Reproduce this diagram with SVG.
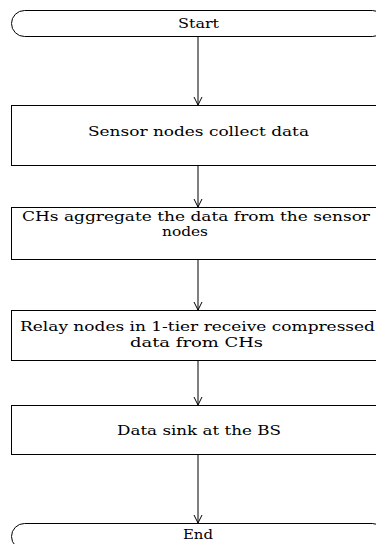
<svg xmlns="http://www.w3.org/2000/svg" width="376" height="544" viewBox="0 0 376 544">
  <style>
    .shape { fill: #ffffff; stroke: #000000; stroke-width: 1; }
    .label { font-family: "DejaVu Serif", "Liberation Serif", serif; font-size: 13.5px; fill: #000000; text-anchor: middle; }
    .flow { fill: none; stroke: #000000; stroke-width: 1; }
  </style>
  <defs>
    <marker id="arrowOpen" viewBox="0 0 10 10" refX="10" refY="5" markerWidth="10" markerHeight="10" markerUnits="userSpaceOnUse" orient="auto">
      <path d="M2,1 L10,5 L2,9" fill="none" stroke="#000000" stroke-width="1"/>
    </marker>
  </defs>
  <rect width="376" height="544" fill="#ffffff"/>

  <g id="connectors">
    <line class="flow" x1="198" y1="36" x2="198" y2="105" marker-end="url(#arrowOpen)"/>
    <line class="flow" x1="198" y1="166" x2="198" y2="207" marker-end="url(#arrowOpen)"/>
    <line class="flow" x1="198" y1="260" x2="198" y2="310" marker-end="url(#arrowOpen)"/>
    <line class="flow" x1="198" y1="361" x2="198" y2="405" marker-end="url(#arrowOpen)"/>
    <line class="flow" x1="198" y1="455" x2="198" y2="523" marker-end="url(#arrowOpen)"/>
  </g>

  <g id="start">
    <rect class="shape" x="11.5" y="10.5" width="374" height="26" rx="13" ry="13"/>
    <text class="label" x="198.5" y="28" textLength="41" lengthAdjust="spacingAndGlyphs">Start</text>
  </g>

  <g id="collect">
    <rect class="shape" x="11.5" y="105.5" width="374" height="60"/>
    <text class="label" x="198.5" y="135.5" textLength="221" lengthAdjust="spacingAndGlyphs">Sensor nodes collect data</text>
  </g>

  <g id="aggregate">
    <rect class="shape" x="11.5" y="207.5" width="374" height="52"/>
    <text class="label" x="196" y="221" textLength="348" lengthAdjust="spacingAndGlyphs">CHs aggregate the data from the sensor</text>
    <text class="label" x="185" y="235.5" textLength="46" lengthAdjust="spacingAndGlyphs">nodes</text>
  </g>

  <g id="relay">
    <rect class="shape" x="11.5" y="310.5" width="374" height="50"/>
    <text class="label" x="197.5" y="331" textLength="355" lengthAdjust="spacingAndGlyphs">Relay nodes in 1-tier receive compressed</text>
    <text class="label" x="196.5" y="346.5" textLength="133" lengthAdjust="spacingAndGlyphs">data from CHs</text>
  </g>

  <g id="sink">
    <rect class="shape" x="11.5" y="405.5" width="374" height="49"/>
    <text class="label" x="199" y="435" textLength="164" lengthAdjust="spacingAndGlyphs">Data sink at the BS</text>
  </g>

  <g id="end">
    <rect class="shape" x="11.5" y="523.5" width="374" height="26" rx="13" ry="13"/>
    <text class="label" x="198" y="539" textLength="30" lengthAdjust="spacingAndGlyphs">End</text>
  </g>
</svg>
